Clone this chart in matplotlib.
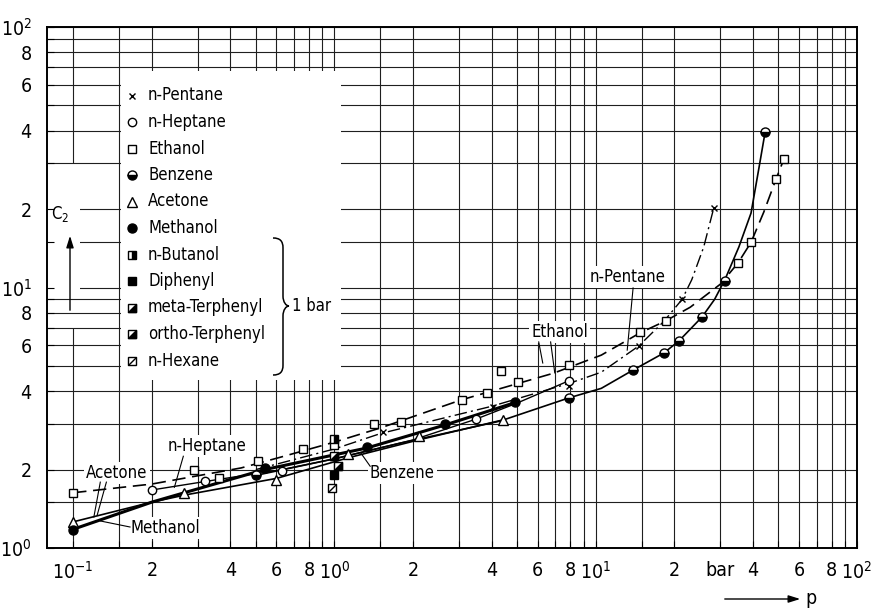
import matplotlib
matplotlib.use("Agg")
import matplotlib.pyplot as plt
from matplotlib.path import Path
from matplotlib.patches import Rectangle, PathPatch

plt.rcParams["font.family"] = "DejaVu Sans"
plt.rcParams["font.stretch"] = "condensed"
plt.rcParams["mathtext.fontset"] = "dejavusans"

# measured points, p in bar, C2
pentane_p = [1.53, 4.04, 7.87, 14.6, 21.4, 28.3]
pentane_c = [2.79, 3.48, 4.18, 5.96, 9.03, 20.2]
heptane_p = [0.2, 0.32, 0.63, 3.47, 7.87]
heptane_c = [1.67, 1.81, 1.97, 3.13, 4.38]
ethanol_p = [0.1, 0.29, 0.36, 0.51, 0.76, 1.0, 1.42, 1.79, 3.09, 3.85, 4.33,
             5.02, 7.89, 14.8, 18.5, 35.0, 39.3, 49.0, 52.5]
ethanol_c = [1.63, 2.0, 1.86, 2.16, 2.4, 2.49, 2.99, 3.05, 3.7, 3.94, 4.78,
             4.34, 5.04, 6.75, 7.44, 12.4, 14.9, 26.1, 31.1]
benzene_p = [0.5, 7.87, 13.9, 18.2, 20.8, 25.5, 31.2, 44.5]
benzene_c = [1.91, 3.77, 4.82, 5.6, 6.23, 7.7, 10.6, 39.5]
acetone_p = [0.1, 0.266, 0.6, 1.13, 2.1, 4.4]
acetone_c = [1.26, 1.63, 1.82, 2.3, 2.69, 3.1]
methanol_p = [0.1, 0.54, 1.33, 2.66, 4.93]
methanol_c = [1.17, 2.03, 2.44, 2.99, 3.63]
# measured at 1 bar only
butanol_p, butanol_c = [1.0], [2.62]
diphenyl_p, diphenyl_c = [1.0], [1.91]
mterph_p, mterph_c = [1.0], [2.25]
oterph_p, oterph_c = [1.03], [2.06]
hexane_p, hexane_c = [0.98], [1.70]

# drawn curves
ethanol_line_p = [0.1, 0.2, 0.44, 0.62, 1.0, 1.5, 3.05, 6.9, 10.5, 14.8, 18.5,
                  23.0, 30.0, 35.0, 39.3, 44.0, 49.0, 52.5]
ethanol_line_c = [1.63, 1.76, 2.03, 2.23, 2.55, 2.89, 3.7, 4.69, 5.5, 6.7, 7.44,
                  8.4, 10.3, 12.4, 14.9, 19.5, 26.1, 31.1]
pentane_line_p = [0.5, 1.0, 1.5, 4.0, 8.0, 10.5, 14.6, 18.2, 21.4, 23.3, 25.9, 28.3]
pentane_line_c = [2.0, 2.4, 2.75, 3.5, 4.3, 4.73, 5.96, 7.4, 9.0, 10.7, 14.3, 20.2]
benzene_line_p = [0.5, 1.0, 1.8, 4.3, 7.9, 10.5, 13.9, 18.2, 20.8, 25.5, 28.5,
                  31.2, 35.3, 39.3, 42.2, 44.5]
benzene_line_c = [1.9, 2.2, 2.53, 3.07, 3.77, 4.1, 4.82, 5.6, 6.23, 7.7, 9.0,
                  10.7, 14.3, 19.3, 29.0, 39.5]
heptane_line_p = [0.2, 0.32, 0.63, 1.0, 2.0, 3.47, 5.0, 7.87]
heptane_line_c = [1.67, 1.8, 2.0, 2.2, 2.6, 3.12, 3.6, 4.38]
acetone_line_p = [0.1, 0.2, 0.27, 0.6, 1.13, 2.1, 4.4]
acetone_line_c = [1.26, 1.5, 1.6, 1.85, 2.22, 2.6, 3.1]
methanol_line_p = [0.1, 0.2, 0.54, 1.33, 2.66, 4.93]
methanol_line_c = [1.18, 1.5, 2.0, 2.42, 2.97, 3.62]

legend_names = ["n-Pentane", "n-Heptane", "Ethanol", "Benzene", "Acetone",
                "Methanol", "n-Butanol", "Diphenyl", "meta-Terphenyl",
                "ortho-Terphenyl", "n-Hexane"]
legend_kinds = ["x", "open_o", "open_s", "half_o", "open_t", "full_o",
                "half_s", "full_s", "diag_s", "diag_s", "hatch_s"]

xtick_pos = [0.1, 0.2, 0.4, 0.6, 0.8, 1, 2, 4, 6, 8, 10, 20, 30, 40, 60, 80, 100]
xtick_lab = ["10$^{-1}$", "2", "4", "6", "8", "10$^{0}$", "2", "4", "6", "8",
             "10$^{1}$", "2", "bar", "4", "6", "8", "10$^{2}$"]
ytick_pos = [1, 2, 4, 6, 8, 10, 20, 40, 60, 80, 100]
ytick_lab = ["10$^{0}$", "2", "4", "6", "8", "10$^{1}$", "2", "4", "6", "8", "10$^{2}$"]
mantissa = [1, 1.5, 2, 3, 4, 5, 6, 7, 8, 9]

TRI = Path([(-1, -1), (1, -1), (1, 1), (-1, -1)],
           [Path.MOVETO, Path.LINETO, Path.LINETO, Path.CLOSEPOLY])
DIAG = Path([(-1, -1), (1, 1)], [Path.MOVETO, Path.LINETO])


def draw(ax, p, c, kind, **kw):
    """Draw points with the marker style of one substance."""
    base = dict(ls="none", color="k", mec="k", mew=1.0, zorder=5, clip_on=False)
    base.update(kw)
    if kind == "x":
        ax.plot(p, c, marker="x", ms=5, **base)
    elif kind == "open_o":
        ax.plot(p, c, marker="o", ms=6, mfc="white", **base)
    elif kind == "open_s":
        ax.plot(p, c, marker="s", ms=6, mfc="white", **base)
    elif kind == "open_t":
        ax.plot(p, c, marker="^", ms=6.5, mfc="white", **base)
    elif kind == "full_o":
        ax.plot(p, c, marker="o", ms=6.5, mfc="k", **base)
    elif kind == "half_o":
        ax.plot(p, c, marker="o", ms=6.5, mfc="k", mfcalt="white",
                fillstyle="bottom", **base)
    elif kind == "half_s":
        ax.plot(p, c, marker="s", ms=6, mfc="k", mfcalt="white",
                fillstyle="right", **base)
    elif kind == "full_s":
        ax.plot(p, c, marker="s", ms=6, mfc="k", **base)
    elif kind == "diag_s":
        ax.plot(p, c, marker="s", ms=6, mfc="white", **base)
        ax.plot(p, c, marker=TRI, ms=6, mfc="k", **base)
    elif kind == "hatch_s":
        ax.plot(p, c, marker="s", ms=6, mfc="white", **base)
        ax.plot(p, c, marker=DIAG, ms=6, mfc="none", **base)


def frac(px, py):
    # reference-pixel position -> axes fraction (layout helper only)
    return (px - 47) / 810, (548 - py) / 521


fig = plt.figure(figsize=(8.71, 6.12), dpi=100)
ax = fig.add_axes([47 / 871, 64 / 612, 810 / 871, 521 / 612])
ax.set_xscale("log")
ax.set_yscale("log")
ax.set_xlim(0.0794, 100)
ax.set_ylim(1, 100)

# log-paper grid
xgrid = [m * 10.0 ** e for e in (-1, 0, 1) for m in mantissa] + [100]
ygrid = [m * 10.0 ** e for e in (0, 1) for m in mantissa] + [100]
ax.vlines(xgrid, 1, 100, color="0.12", lw=0.8, zorder=0.5)
ax.hlines(ygrid, 0.0794, 100, color="0.12", lw=0.8, zorder=0.7)
# blank strips (label area of C2, legend field)
ax.add_patch(Rectangle((0.092, 7.0), 0.014, 23.0, fc="white", ec="none", zorder=0.6))
ax.add_patch(Rectangle((0.0794, 9.5), 0.027, 15.5, fc="white", ec="none", zorder=0.8))
ax.add_patch(Rectangle((0.152, 4.4), 0.91, 63.6, fc="white", ec="none", zorder=0.8))

# curves
ax.plot(ethanol_line_p, ethanol_line_c, color="k", lw=1.2, dashes=(8, 4), zorder=2)
ax.plot(pentane_line_p, pentane_line_c, color="k", lw=1.0, dashes=(9, 3, 1.5, 3), zorder=2)
ax.plot(benzene_line_p, benzene_line_c, color="k", lw=1.2, zorder=2)
ax.plot(heptane_line_p, heptane_line_c, color="k", lw=1.0, zorder=2)
ax.plot(acetone_line_p, acetone_line_c, color="k", lw=1.2, zorder=2)
ax.plot(methanol_line_p, methanol_line_c, color="k", lw=2.2, zorder=2)

# points
draw(ax, pentane_p, pentane_c, "x")
draw(ax, heptane_p, heptane_c, "open_o")
draw(ax, ethanol_p, ethanol_c, "open_s")
draw(ax, benzene_p, benzene_c, "half_o")
draw(ax, acetone_p, acetone_c, "open_t")
draw(ax, methanol_p, methanol_c, "full_o")
draw(ax, butanol_p, butanol_c, "half_s")
draw(ax, diphenyl_p, diphenyl_c, "full_s")
draw(ax, mterph_p, mterph_c, "diag_s")
draw(ax, oterph_p, oterph_c, "diag_s")
draw(ax, hexane_p, hexane_c, "hatch_s")

# legend
for i, (name, kind) in enumerate(zip(legend_names, legend_kinds)):
    lx, ly = frac(132, 95.5 + 26.5 * i)
    draw(ax, [lx], [ly], kind, transform=ax.transAxes)
    tx, _ = frac(148, 0)
    ax.text(tx, ly, name, transform=ax.transAxes, fontsize=12, va="center",
            ha="left", zorder=5)

# brace for the 1-bar substances
bv = [(273, 238), (280, 238), (283, 241), (283, 248), (283, 296),
      (283, 302), (286, 306), (289, 306), (286, 306), (283, 310), (283, 316),
      (283, 365), (283, 372), (280, 375), (273, 375)]
bc = [Path.MOVETO, Path.CURVE4, Path.CURVE4, Path.CURVE4, Path.LINETO,
      Path.CURVE4, Path.CURVE4, Path.CURVE4, Path.CURVE4, Path.CURVE4, Path.CURVE4,
      Path.LINETO, Path.CURVE4, Path.CURVE4, Path.CURVE4]
ax.add_patch(PathPatch(Path([frac(*v) for v in bv], bc), fill=False, lw=1.1,
                       transform=ax.transAxes, zorder=5))
ax.text(*frac(292, 306), "1 bar", transform=ax.transAxes, fontsize=12,
        va="center", ha="left", zorder=5)

# curve labels with leader lines
lab = dict(fontsize=12, ha="center", va="center", zorder=6,
           bbox=dict(fc="white", ec="none", pad=1.5))
ax.text(0.147, 1.94, "Acetone", **lab)
ax.text(0.225, 1.19, "Methanol", **lab)
ax.text(0.324, 2.46, "n-Heptane", **lab)
ax.text(1.82, 1.94, "Benzene", **lab)
ax.text(7.28, 6.75, "Ethanol", **lab)
ax.text(13.2, 10.97, "n-Pentane", **lab)
leaders = [((0.127, 1.79), (0.120, 1.315)), ((0.134, 1.79), (0.1236, 1.339)),
           ((0.165, 1.204), (0.127, 1.27)), ((0.264, 2.25), (0.244, 1.71)),
           ((1.37, 2.06), (1.26, 2.32)), ((6.05, 6.18), (6.27, 5.13)),
           ((6.72, 6.18), (6.97, 4.7)), ((13.9, 9.96), (13.2, 5.75))]
for (x1, y1), (x2, y2) in leaders:
    ax.plot([x1, x2], [y1, y2], color="k", lw=0.8, zorder=6)

# axis annotations
ax.text(*frac(60, 214), "C$_2$", transform=ax.transAxes, fontsize=12,
        ha="center", va="center")
ax.annotate("", xy=frac(70, 233), xytext=frac(70, 313), xycoords="axes fraction",
            textcoords="axes fraction",
            arrowprops=dict(arrowstyle="-|>,head_length=0.7,head_width=0.22",
                            color="k", lw=1.0))
ax.annotate("", xy=frac(803, 599), xytext=frac(722, 599), xycoords="axes fraction",
            textcoords="axes fraction", annotation_clip=False,
            arrowprops=dict(arrowstyle="-|>,head_length=0.7,head_width=0.22",
                            color="k", lw=1.0))
ax.text(*frac(811, 599), "p", transform=ax.transAxes, fontsize=14,
        ha="center", va="center")

ax.set_xticks(xtick_pos, xtick_lab)
ax.set_yticks(ytick_pos, ytick_lab)
ax.set_xticks(xgrid, minor=True)
ax.set_yticks(ygrid, minor=True)
ax.tick_params(axis="both", which="minor", labelbottom=False, labelleft=False)
ax.tick_params(which="both", direction="in", length=5, width=0.8, top=False, right=False)
ax.tick_params(axis="x", labelsize=14, pad=9)
ax.tick_params(axis="y", labelsize=14, pad=11)
for s in ax.spines.values():
    s.set_linewidth(1.4)

fig.savefig("out.png", dpi=100)
